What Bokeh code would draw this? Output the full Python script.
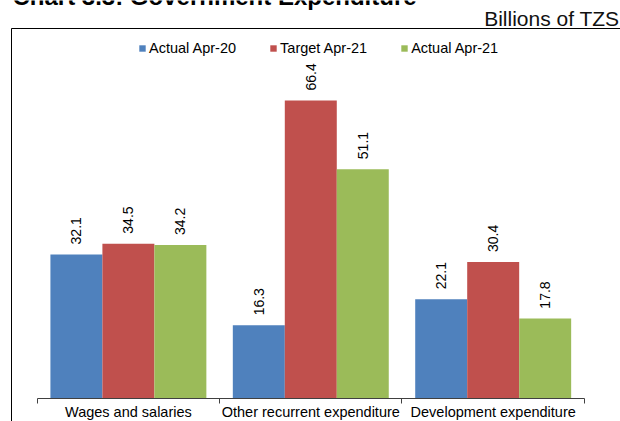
import math
from bokeh.plotting import figure
from bokeh.models import (Range1d, LinearAxis, FixedTicker, ColumnDataSource,
                          LabelSet, Label, CustomJSTickFormatter)
from bokeh.transform import dodge
from bokeh.core.properties import value
from bokeh.embed import file_html
from bokeh.resources import INLINE

# ---- data ----
categories = ["Wages and salaries", "Other recurrent expenditure", "Development expenditure"]
series_names = ["Actual Apr-20", "Target Apr-21", "Actual Apr-21"]
actual_apr20 = [32.1, 16.3, 22.1]
target_apr21 = [34.5, 66.4, 30.4]
actual_apr21 = [34.2, 51.1, 17.8]
colors = ["#4F81BD", "#C0504D", "#9BBB59"]
title_text = "Chart 3.3: Government Expenditure"
unit_text = "Billions of TZS"

FONT = "Liberation Sans"
idx = list(range(len(categories)))
src = ColumnDataSource(dict(
    x=idx,
    s0=actual_apr20, s1=target_apr21, s2=actual_apr21,
    t0=[f"{v:.1f}" for v in actual_apr20],
    t1=[f"{v:.1f}" for v in target_apr21],
    t2=[f"{v:.1f}" for v in actual_apr21],
))

# layout constants (pixel geometry -> data coords)
X0, X1 = -0.7012, 2.698       # frame spans whole canvas width
Y0, Y1 = -5.125, 88.68        # frame spans whole canvas height
BOX_LEFT = -0.6409            # outer box left edge (x ~ 11px)
BOX_TOP = 82.33               # outer box top edge (y ~ 28px)
GRAY_TOP = 82.55

p = figure(width=620, height=421, output_backend="svg", toolbar_location=None,
           x_axis_type=None, y_axis_type=None,
           x_range=Range1d(X0, X1), y_range=Range1d(Y0, Y1),
           min_border=0, outline_line_color=None,
           background_fill_color="white", border_fill_color="white")

def plain_axis(**kw):
    return LinearAxis(ticker=FixedTicker(ticks=[]), major_tick_out=0, major_tick_in=0,
                      major_label_standoff=0, minor_tick_line_color=None, **kw)

# outer box: left and top borders
p.add_layout(plain_axis(fixed_location=BOX_LEFT, bounds=(Y0, BOX_TOP),
                        axis_line_color="black"), "left")
p.add_layout(plain_axis(fixed_location=GRAY_TOP, bounds=(BOX_LEFT, X1),
                        axis_line_color="#b0b0b0"), "above")
p.add_layout(plain_axis(fixed_location=BOX_TOP, bounds=(BOX_LEFT, X1),
                        axis_line_color="black"), "above")

# category axis with boundary ticks
bounds = [i - 0.5 for i in idx] + [idx[-1] + 0.5]
tick_ax = LinearAxis(ticker=FixedTicker(ticks=bounds), fixed_location=0,
                     bounds=(bounds[0], bounds[-1]),
                     axis_line_color="#404040", major_tick_line_color="#404040",
                     major_tick_in=0, major_tick_out=5, minor_tick_line_color=None,
                     formatter=CustomJSTickFormatter(code="return ''"))
p.add_layout(tick_ax, "below")
cat_ax = LinearAxis(ticker=FixedTicker(ticks=idx), fixed_location=0,
                    major_label_overrides={i: c for i, c in zip(idx, categories)},
                    axis_line_color=None, major_tick_line_color=None, minor_tick_line_color=None,
                    major_tick_in=0, major_tick_out=0, major_label_standoff=6,
                    major_label_text_font=FONT, major_label_text_font_size="14.5px",
                    major_label_text_color="black")
p.add_layout(cat_ax, "below")

w = 0.285
offsets = [-w, 0, w]
for k in range(3):
    p.vbar(x=dodge("x", offsets[k]), top=f"s{k}", width=w, source=src,
           fill_color=colors[k], line_color=None, legend_label=series_names[k])
    p.add_layout(LabelSet(x=dodge("x", offsets[k]), y=f"s{k}", text=f"t{k}", source=src,
                          angle=math.pi / 2, text_align="left", text_baseline="middle",
                          y_offset=10, text_font=value(FONT), text_font_size=value("14px"),
                          text_color="black"))

lg = p.legend[0]
lg.orientation = "horizontal"
lg.location = (138, 365)
lg.border_line_color = None
lg.background_fill_alpha = 0
lg.padding = 0
lg.margin = 0
lg.spacing = 33
lg.glyph_width = 8
lg.glyph_height = 8
lg.label_standoff = 3
lg.label_height = 16
lg.label_text_font = FONT
lg.label_text_font_size = "14.5px"
lg.label_text_color = "black"

p.add_layout(Label(x=12, y=425.5, x_units="screen", y_units="screen", text=title_text,
                   text_font=FONT, text_font_style="bold", text_font_size="24px",
                   text_baseline="alphabetic", text_align="left", text_color="black"))
p.add_layout(Label(x=619, y=403, x_units="screen", y_units="screen", text=unit_text,
                   text_font=FONT, text_font_size="21px",
                   text_baseline="alphabetic", text_align="right", text_color="#111111"))

open("out.html", "w").write(file_html(p, INLINE))
